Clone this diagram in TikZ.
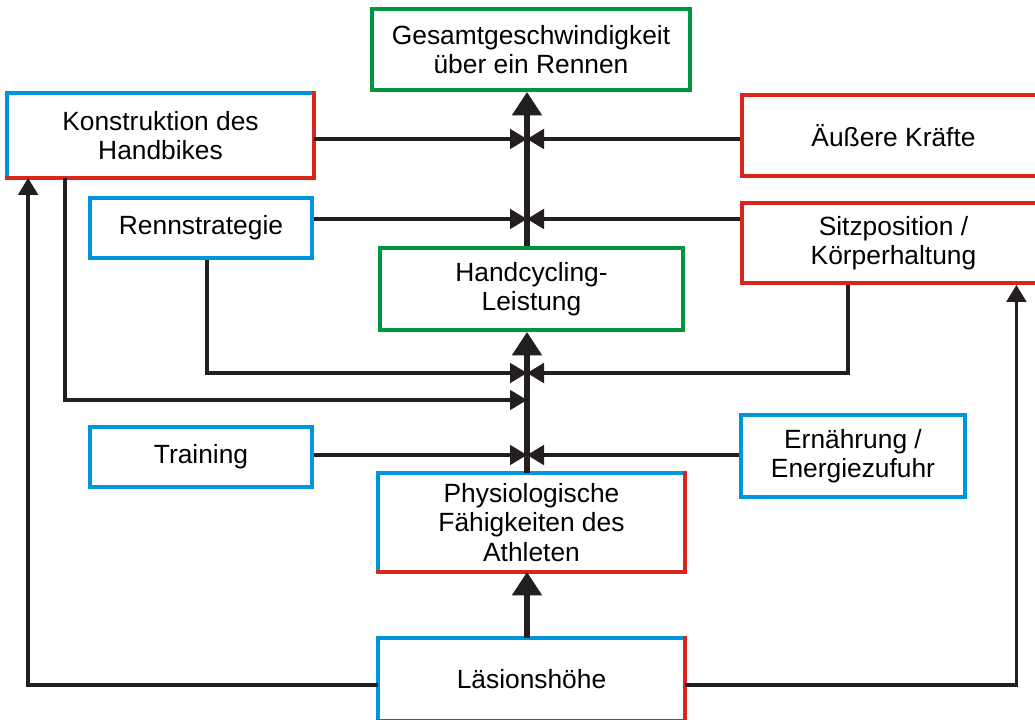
\documentclass[tikz,border=0pt]{standalone}
\usepackage{fontspec}
\setmainfont{Liberation Sans}
\usetikzlibrary{arrows.meta,calc}
\definecolor{boxblue}{RGB}{0,150,222}
\definecolor{boxred}{RGB}{218,37,29}
\definecolor{boxgreen}{RGB}{0,150,64}
\definecolor{linegray}{RGB}{35,31,32}
\tikzset{
  box/.style={rectangle, align=center, font=\fontsize{15}{16.8}\selectfont, inner sep=2pt, line width=2.2pt},
  bluebox/.style={box, draw=boxblue},
  redbox/.style={box, draw=boxred},
  greenbox/.style={box, draw=boxgreen},
  mixbox/.style={box},
  frame/.style={line width=2.2pt, line cap=rect},
  mainarrow/.style={linegray, line width=3pt, -{Triangle[length=0.47cm,width=0.58cm]}},
  sidearrow/.style={linegray, line width=2pt, -{Triangle[length=0.34cm,width=0.39cm]}}
}

\begin{document}
\begin{tikzpicture}[x=0.02cm,y=-0.02cm]
  \path[use as bounding box, clip] (0,0) rectangle (1035,720);
  \node[greenbox, minimum width=6.36cm, minimum height=1.62cm] (ges) at (531,49.5) {Gesamtgeschwindigkeit\\über ein Rennen};
  \node[mixbox, minimum width=6.06cm, minimum height=1.62cm] (kon) at (160.5,135.5) {Konstruktion des\\Handbikes};
  \node[bluebox, minimum width=4.44cm, minimum height=1.2cm] (ren) at (201,228) {Rennstrategie};
  \node[redbox, minimum width=6.06cm, minimum height=1.62cm] (aus) at (893.5,135.5) {Äußere Kräfte};
  \node[redbox, minimum width=6.06cm, minimum height=1.6cm] (sitz) at (893.5,243) {Sitzposition /\\Körperhaltung};
  \node[greenbox, minimum width=6.06cm, minimum height=1.64cm] (hand) at (531.5,289) {Handcycling-\\Leistung};
  \node[bluebox, minimum width=4.44cm, minimum height=1.2cm] (tra) at (201,457) {Training};
  \node[bluebox, minimum width=4.48cm, minimum height=1.64cm] (ern) at (853,456) {Ernährung /\\Energiezufuhr};
  \node[mixbox, minimum width=6.06cm, minimum height=1.9cm] (phy) at (531.5,522.5) {Physiologische\\Fähigkeiten des\\Athleten};
  \node[mixbox, minimum width=6.06cm, minimum height=1.58cm] (lae) at (531.5,679.5) {Läsionshöhe};
  % two-coloured frames
  \foreach \n in {kon,phy,lae} {
    \draw[frame, boxblue] (\n.south west) |- (\n.north east);
    \draw[frame, boxred] (\n.north east) |- (\n.south west);
  }
  % junctions on the spine
  \coordinate (j1) at (527,139);
  \coordinate (j2) at (527,219);
  \coordinate (j3) at (527,373);
  \coordinate (j4) at (527,400);
  \coordinate (j5) at (527,455);
  \draw[sidearrow] (kon.east |- j1) -- (j1);
  \draw[sidearrow] (aus.west |- j1) -- (j1);
  \draw[sidearrow] (ren.east |- j2) -- (j2);
  \draw[sidearrow] (sitz.west |- j2) -- (j2);
  \draw[sidearrow] ($(ren.south)+(6,0)$) |- (j3);
  \draw[sidearrow] ($(sitz.south)+(-45.5,0)$) |- (j3);
  \draw[sidearrow] ($(kon.south west)+(58,0)$) |- (j4);
  \draw[sidearrow] (tra.east |- j5) -- (j5);
  \draw[sidearrow] (ern.west |- j5) -- (j5);
  \draw[sidearrow] ($(lae.west)+(0,5.5)$) -| ($(kon.south west)+(21,0)$);
  \draw[sidearrow] ($(lae.east)+(0,5.5)$) -| ($(sitz.south east)+(-30.5,0)$);
  % spine
  \draw[mainarrow] (hand.north -| j1) -- (ges.south -| j1);
  \draw[mainarrow] (phy.north -| j1) -- (hand.south -| j1);
  \draw[mainarrow] (lae.north -| j1) -- (phy.south -| j1);
\end{tikzpicture}
\end{document}
